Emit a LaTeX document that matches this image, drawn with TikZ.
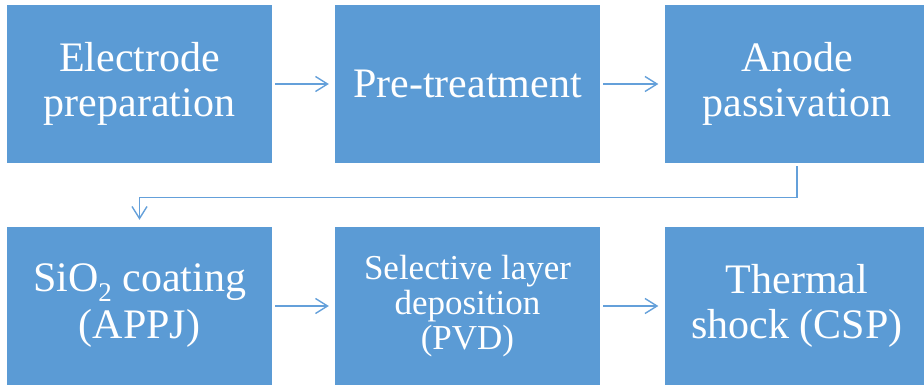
\documentclass[tikz,border=0pt]{standalone}
\usepackage{fontspec}
\setmainfont{Liberation Serif}
\usetikzlibrary{arrows.meta}
\definecolor{boxblue}{RGB}{91,155,213}
\definecolor{lineblue}{RGB}{100,160,218}
\newcommand{\subtwo}{\raisebox{-10pt}{\fontsize{27}{27}\selectfont 2}}
\begin{document}
\begin{tikzpicture}[x=1pt,y=-1pt,
  stepbox/.style={rectangle, fill=boxblue, draw=none, inner sep=0pt,
    minimum width=265pt, minimum height=158pt, text=white, align=center,
    font=\fontsize{42}{45}\selectfont},
  smallbox/.style={stepbox, font=\fontsize{35}{35}\selectfont},
  arr/.style={draw=lineblue, line width=1.4pt,
    -{Straight Barb[length=12pt,width=15pt,line width=1.4pt]},
    shorten <=3pt, shorten >=6pt}]
\useasboundingbox (0,0) rectangle (924,385);
\node[stepbox] (b1) at (139.5,84) {Electrode\\preparation};
\node[stepbox] (b2) at (467.5,84) {Pre-treatment};
\node[stepbox] (b3) at (797,84) {Anode\\passivation};
\node[stepbox] (b4) at (139.5,306) {SiO\subtwo{} coating\\[2pt](APPJ)};
\node[smallbox] (b5) at (467.5,306) {Selective layer\\deposition\\(PVD)};
\node[stepbox] (b6) at (797,306) {Thermal\\shock (CSP)};
\draw[arr] (b1) -- (b2);
\draw[arr] (b2) -- (b3);
\draw[arr] (b4) -- (b5);
\draw[arr] (b5) -- (b6);
\draw[arr, shorten >=7pt] (b3.south) -- ++(0,34) -| (b4.north);
\end{tikzpicture}
\end{document}
